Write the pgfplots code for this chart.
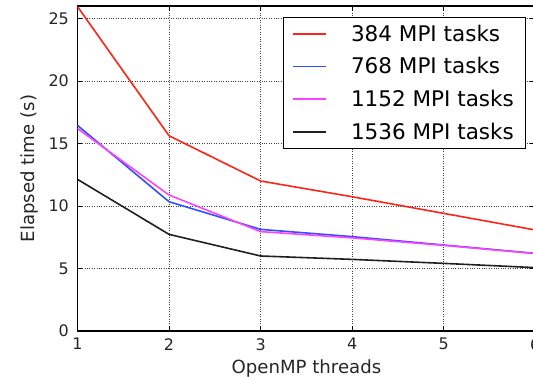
\documentclass[border=0pt]{standalone}
\usepackage{pgfplots}
\pgfplotsset{compat=1.18}
\usepackage{fontspec}
\setmainfont{DejaVu Sans}
\definecolor{lred}{HTML}{FF2418}
\definecolor{lblue}{HTML}{3050FF}
\definecolor{lmag}{HTML}{FF40FF}
\definecolor{lblack}{HTML}{202020}
\begin{document}
\begin{tikzpicture}
\begin{axis}[
  at={(0,0)}, anchor=south west,
  scale only axis,
  width=457.8bp, height=325bp,
  xmin=1, xmax=6, ymin=0, ymax=26,
  xtick={1,2,3,4,5,6},
  ytick={0,5,10,15,20,25},
  tick align=inside,
  major tick length=5bp,
  tick style={black, line width=0.8bp},
  axis line style={black, line width=1.4bp},
  grid=major,
  major grid style={dotted, black!75, line width=0.7bp},
  /pgf/number format/assume math mode=true,
  tick label style={font=\fontsize{16}{19}\selectfont, text=black!85},
  xticklabel style={anchor=north, inner sep=0pt, yshift=-7bp},
  yticklabel style={anchor=east, inner sep=0pt, xshift=-8.5bp},
  xlabel={OpenMP threads},
  ylabel={Elapsed time (s)},
  label style={font=\fontsize{18.2}{21}\selectfont, text=black!85},
  xlabel style={at={(axis description cs:0.5,0)}, anchor=base, yshift=-42.3bp, inner sep=0pt},
  ylabel style={at={(axis description cs:-0.1049,0.5)}, anchor=center, inner sep=0pt},
  legend cell align=left,
  legend image code/.code={\draw[line width=1.6bp,#1] (0bp,0bp) -- (16.5bp,0bp) -- (33bp,0bp);},
  legend style={
    at={(axis description cs:1,1)}, anchor=north east,
    xshift=-9.6bp, yshift=-11.3bp,
    draw=black, line width=1bp,
    font=\fontsize{21.6}{25}\selectfont,
    inner xsep=9.3bp, inner ysep=5.1bp,
    row sep=10.9bp, column sep=22bp,
  },
]
\addplot[lred, line width=1.6bp] coordinates {(1,25.95) (2,15.62) (3,12.0) (4,10.74) (5,9.41) (6,8.08)};
\addlegendentry{384 MPI tasks}
\addplot[lblue, line width=1.6bp] coordinates {(1,16.45) (2,10.34) (3,8.13) (4,7.55) (5,6.88) (6,6.21)};
\addlegendentry{768 MPI tasks}
\addplot[lmag, line width=1.6bp] coordinates {(1,16.2) (2,10.88) (3,7.95) (4,7.45) (5,6.85) (6,6.19)};
\addlegendentry{1152 MPI tasks}
\addplot[lblack, line width=1.6bp] coordinates {(1,12.13) (2,7.73) (3,6.0) (4,5.73) (5,5.41) (6,5.07)};
\addlegendentry{1536 MPI tasks}
\end{axis}
\pgfresetboundingbox
\useasboundingbox (-77.5bp,-46bp) rectangle (455.5bp,331bp);
\end{tikzpicture}
\end{document}
